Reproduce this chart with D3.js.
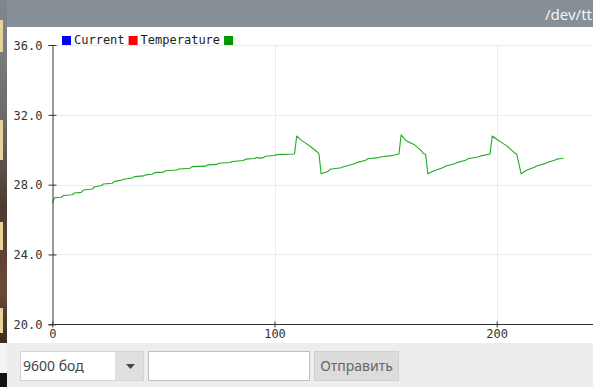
<!DOCTYPE html>
<html>
<head>
<meta charset="utf-8">
<script src="https://cdn.jsdelivr.net/npm/d3@7"></script>
<style>
  html, body { margin: 0; padding: 0; background: #fff; overflow: hidden; }
</style>
</head>
<body>
<svg width="593" height="387"></svg>
<script>
// sample index and temperature
const sampleIdx = [0, 1, 4, 5, 9, 10, 13, 14, 18, 19, 22, 23, 27, 28, 31, 32, 36, 37, 41, 42, 45, 46, 50, 51, 56, 57,
  62, 63, 69, 70, 74, 75, 80, 81, 86, 87, 91, 92, 93, 95, 96, 100, 101, 109,
  110, 112, 114, 117, 119, 120, 121,
  124, 125, 130, 131, 136, 137, 141, 142, 147, 148, 152, 154, 156,
  157, 159, 160, 163, 166, 167, 168, 169,
  171, 176, 177, 181, 182, 186, 187, 192, 193, 197,
  198, 200, 203, 205, 208, 209, 211,
  213, 214, 217, 218, 222, 223, 226, 227, 229, 230];
const temps = [26.94, 27.25, 27.28, 27.38, 27.42, 27.52, 27.56, 27.69, 27.75, 27.88, 27.94, 28.04, 28.08, 28.19, 28.25, 28.31, 28.38, 28.46, 28.5, 28.56, 28.6, 28.69, 28.72, 28.8, 28.84, 28.9,
  28.94, 29.03, 29.06, 29.13, 29.16, 29.23, 29.27, 29.33, 29.38, 29.46, 29.5, 29.56, 29.52, 29.55, 29.63, 29.67, 29.72, 29.76,
  30.79, 30.55, 30.38, 30.1, 29.9, 29.76, 28.62,
  28.75, 28.88, 28.97, 29.03, 29.2, 29.26, 29.4, 29.48, 29.55, 29.6, 29.65, 29.7, 29.76,
  30.85, 30.55, 30.47, 30.28, 29.95, 29.78, 29.74, 28.62,
  28.75, 28.98, 29.07, 29.2, 29.26, 29.4, 29.48, 29.6, 29.65, 29.76,
  30.79, 30.6, 30.35, 30.18, 29.82, 29.76, 28.62,
  28.8, 28.85, 29.0, 29.07, 29.22, 29.28, 29.4, 29.46, 29.5, 29.51];

const seriesNames = ["Current", "Temperature", ""];
const seriesColors = ["#0000ff", "#ff0000", "#009900"];
const yTicks = [20, 24, 28, 32, 36];
const xTicks = [0, 100, 200];

const svg = d3.select("svg");
const W = 593, H = 387;

// --- window chrome ---
// desktop strip on the left
const desk = svg.append("defs").append("linearGradient")
  .attr("id", "desk").attr("x1", 0).attr("y1", 0).attr("x2", 0).attr("y2", 1);
desk.append("stop").attr("offset", "0").attr("stop-color", "#7f8a8d");
desk.append("stop").attr("offset", "0.35").attr("stop-color", "#6d6a66");
desk.append("stop").attr("offset", "0.6").attr("stop-color", "#4e3a30");
desk.append("stop").attr("offset", "0.85").attr("stop-color", "#6a4a35");
desk.append("stop").attr("offset", "1").attr("stop-color", "#3a2a20");
svg.append("rect").attr("x", 0).attr("y", 0).attr("width", 8).attr("height", 343).attr("fill", "url(#desk)");
[[20, 52], [120, 160], [222, 250], [308, 333]].forEach(d => {
  svg.append("rect").attr("x", 0).attr("y", d[0]).attr("width", 3).attr("height", d[1] - d[0]).attr("fill", "#e6d39c");
});
svg.append("rect").attr("x", 0).attr("y", 343).attr("width", 8).attr("height", 30).attr("fill", "#f4f4f4");
svg.append("rect").attr("x", 0).attr("y", 373).attr("width", 8).attr("height", 14).attr("fill", "#111");

// title bar
svg.append("rect").attr("x", 7).attr("y", 0).attr("width", W - 7).attr("height", 27).attr("fill", "#858f95");
svg.append("text").attr("x", 592).attr("y", 20).attr("text-anchor", "end")
  .attr("font-family", "Noto Sans, sans-serif").attr("font-size", 15)
  .attr("fill", "#f2f4f5").text("/dev/tt");

// plot panel
svg.append("rect").attr("x", 7).attr("y", 27).attr("width", W - 7).attr("height", 316).attr("fill", "#ffffff");

// --- scales ---
const x = d3.scaleLinear().domain([0, 100]).range([52.3, 274.5]);
const y = d3.scaleLinear().domain([20, 36]).range([324.3, 45]);

const plot = svg.append("g");

// grid
plot.append("g").selectAll("line").data(yTicks.filter(d => d > 20)).join("line")
  .attr("x1", x(0)).attr("x2", W)
  .attr("y1", d => Math.round(y(d)) + 0.5).attr("y2", d => Math.round(y(d)) + 0.5)
  .attr("stroke", "#ececec");
plot.append("g").selectAll("line").data(xTicks.filter(d => d > 0)).join("line")
  .attr("x1", d => Math.round(x(d)) + 0.5).attr("x2", d => Math.round(x(d)) + 0.5)
  .attr("y1", y(36)).attr("y2", y(20))
  .attr("stroke", "#ececec");

// line
const line = d3.line().x((d, i) => x(sampleIdx[i])).y(d => y(d));
plot.append("path").datum(temps)
  .attr("d", line)
  .attr("fill", "none")
  .attr("stroke", "#22aa22")
  .attr("stroke-width", 1.1)
  .attr("stroke-linejoin", "round");

// axes
const yAxis = plot.append("g").attr("transform", "translate(52.5,0)")
  .call(d3.axisLeft(y).tickValues(yTicks).tickFormat(d3.format(".1f")).tickSize(4).tickPadding(6));
yAxis.selectAll(".tick line").attr("x1", -4).attr("x2", 4);

const xAxis = plot.append("g").attr("transform", "translate(0,324.5)")
  .call(d3.axisBottom(x).tickValues(xTicks).tickSize(3).tickPadding(2));
xAxis.selectAll(".tick line").attr("y1", -3).attr("y2", 3);
xAxis.select(".domain").attr("d", `M${x(0)},0H${W}`);

[yAxis, xAxis].forEach(a => {
  a.select(".domain").attr("stroke", "#333");
  a.selectAll(".tick line").attr("stroke", "#333");
  a.selectAll("text").attr("font-family", "DejaVu Sans Mono, monospace")
    .attr("font-size", 12).attr("fill", "#333");
});
yAxis.selectAll("text").attr("dy", "0.36em");

// legend
let lx = 62;
const legend = plot.append("g");
seriesNames.forEach((name, i) => {
  legend.append("rect").attr("x", lx).attr("y", 36).attr("width", 9).attr("height", 9)
    .attr("fill", seriesColors[i]);
  lx += 12;
  if (name) {
    const t = legend.append("text").attr("x", lx).attr("y", 43.5)
      .attr("font-family", "DejaVu Sans Mono, monospace").attr("font-size", 12)
      .attr("fill", "#222").text(name);
    lx += t.node().getComputedTextLength() + 4;
  }
});

// --- bottom bar ---
svg.append("rect").attr("x", 7).attr("y", 343).attr("width", W - 7).attr("height", 44).attr("fill", "#ededed");
const ui = svg.append("g").attr("font-family", "Noto Sans, sans-serif").attr("font-size", 14);
ui.append("rect").attr("x", 20.5).attr("y", 351.5).attr("width", 123).attr("height", 29)
  .attr("fill", "#fff").attr("stroke", "#d4d4d4");
ui.append("rect").attr("x", 115).attr("y", 352).attr("width", 28).attr("height", 28).attr("fill", "#e0e0e0");
ui.append("path").attr("d", "M126,364h9l-4.5,5z").attr("fill", "#444");
ui.append("text").attr("x", 23).attr("y", 371).attr("fill", "#444").text("9600 бод");
ui.append("rect").attr("x", 148.5).attr("y", 351.5).attr("width", 161).attr("height", 29)
  .attr("fill", "#fff").attr("stroke", "#888").attr("stroke-dasharray", "1,1");
ui.append("rect").attr("x", 314.5).attr("y", 351.5).attr("width", 84).attr("height", 29)
  .attr("fill", "#dcdcdc").attr("stroke", "#cfcfcf");
ui.append("text").attr("x", 356.5).attr("y", 371).attr("text-anchor", "middle")
  .attr("fill", "#666").text("Отправить");
</script>
</body>
</html>
